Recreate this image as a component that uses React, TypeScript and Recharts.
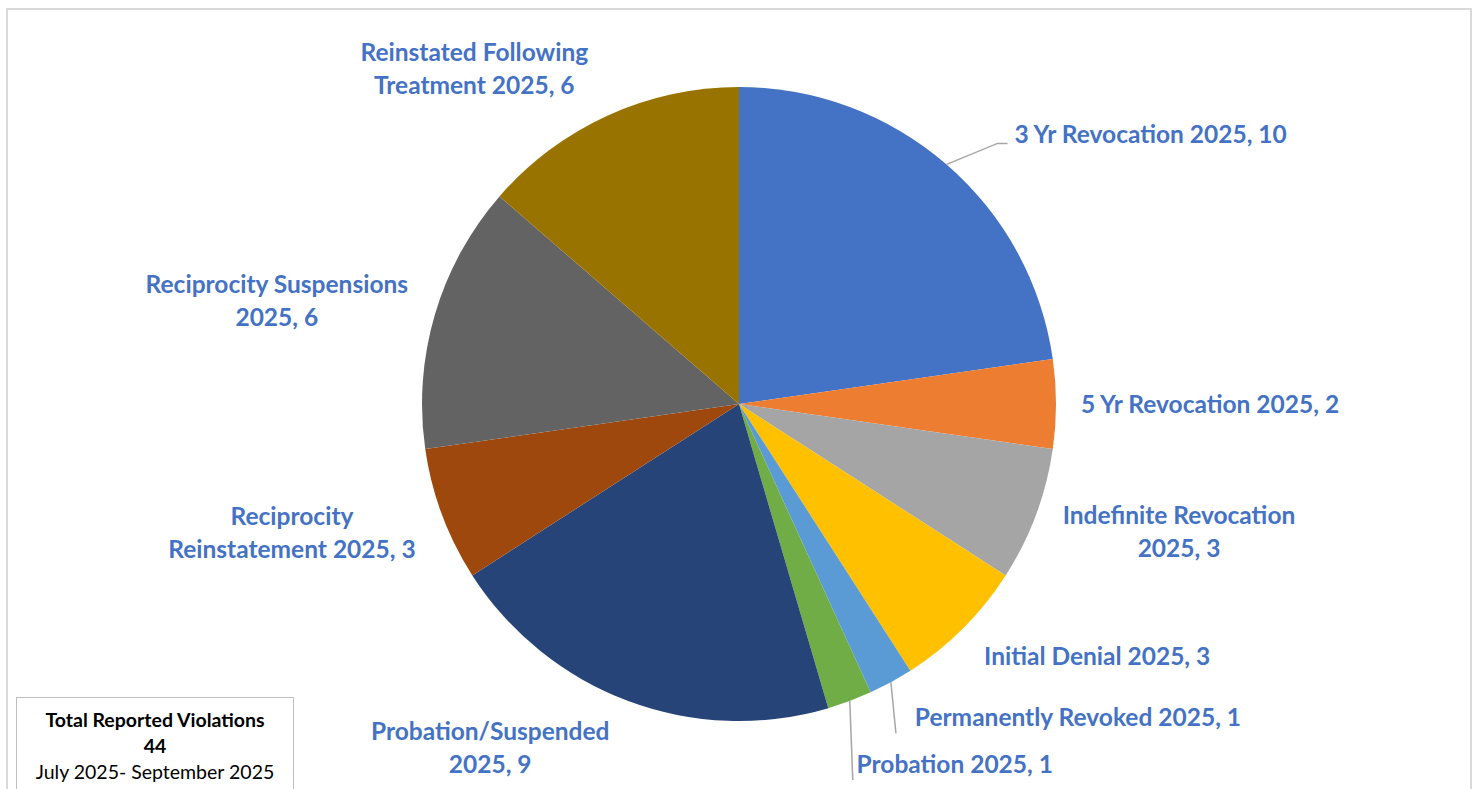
import React, { useEffect } from "react";
import { PieChart, Pie, Cell } from "recharts";

const categories = [
  "3 Yr Revocation 2025",
  "5 Yr Revocation 2025",
  "Indefinite Revocation 2025",
  "Initial Denial 2025",
  "Permanently Revoked 2025",
  "Probation 2025",
  "Probation/Suspended 2025",
  "Reciprocity Reinstatement 2025",
  "Reciprocity Suspensions 2025",
  "Reinstated Following Treatment 2025",
];
const counts = [10, 2, 3, 3, 1, 1, 9, 3, 6, 6];

const TOTAL_TITLE = "Total Reported Violations";
const TOTAL_VALUE = "44";
const PERIOD = "July 2025- September 2025";

const COLORS = [
  "#4472C4",
  "#ED7D31",
  "#A5A5A5",
  "#FFC000",
  "#5B9BD5",
  "#70AD47",
  "#264478",
  "#9E480E",
  "#636363",
  "#997300",
];

// label placement relative to the slice's outer edge point
// dx/dy: block centre offset, wrap: words on first line, leader: line end offset
const LABEL_LAYOUT = [
  { dx: 204, dy: -29, wrap: 0, leader: [[51, -21], [61, -21]] },
  { dx: 154, dy: 1, wrap: 0 },
  { dx: 143, dy: 18, wrap: 2 },
  { dx: 134, dy: 29, wrap: 0 },
  { dx: 187, dy: 36, wrap: 0, leader: [[5, 51]] },
  { dx: 105, dy: 64, wrap: 0, leader: [[3, 79]] },
  { dx: -138, dy: 47, wrap: 1 },
  { dx: -150, dy: 19, wrap: 1 },
  { dx: -158, dy: -13, wrap: 2 },
  { dx: -133, dy: -46, wrap: 2 },
];

const data = categories.map((name, i) => ({ name, value: counts[i] }));

const RADIAN = Math.PI / 180;
const FONT = "Lato, 'Open Sans', sans-serif";
const LINE_H = 33;

function renderLabel(props: any) {
  const { cx, cy, midAngle, outerRadius, index, name, value } = props;
  const layout = LABEL_LAYOUT[index];
  const ex = cx + outerRadius * Math.cos(-midAngle * RADIAN);
  const ey = cy + outerRadius * Math.sin(-midAngle * RADIAN);
  const text = `${name}, ${value}`;
  const words = text.split(" ");
  const lines =
    layout.wrap > 0
      ? [words.slice(0, layout.wrap).join(" "), words.slice(layout.wrap).join(" ")]
      : [text];
  const x = ex + layout.dx;
  const yc = ey + layout.dy;
  const top = yc - ((lines.length - 1) * LINE_H) / 2;
  return (
    <g key={`lbl-${index}`}>
      {layout.leader && (
        <polyline
          points={[[0, 0], ...layout.leader].map(([px, py]) => `${ex + px},${ey + py}`).join(" ")}
          fill="none"
          stroke="#A6A6A6"
          strokeWidth={1.5}
        />
      )}
      <text
        x={x}
        textAnchor="middle"
        fill="#4472C4"
        fontFamily={FONT}
        fontWeight={700}
        fontSize={24.5}
      >
        {lines.map((ln, i) => (
          <tspan key={i} x={x} y={top + i * LINE_H + 8}>
            {ln}
          </tspan>
        ))}
      </text>
    </g>
  );
}

export default function App() {
  useEffect(() => {
    document.body.style.margin = "0";
  }, []);

  return (
    <div
      style={{
        position: "relative",
        width: 1478,
        height: 789,
        overflow: "hidden",
        background: "#fff",
        fontFamily: FONT,
      }}
    >
      <style>{`.recharts-pie-sectors { filter: drop-shadow(0px 2px 4px rgba(0,0,0,0.25)); }`}</style>
      <div
        style={{
          position: "absolute",
          left: 6,
          top: 8,
          width: 1462,
          height: 800,
          border: "2px solid #D9D9D9",
        }}
      />
      <PieChart
        width={1478}
        height={789}
        margin={{ top: 0, right: 0, bottom: 0, left: 0 }}
        style={{ position: "absolute", left: 0, top: 0 }}
      >
        <Pie
          data={data}
          dataKey="value"
          nameKey="name"
          cx={739}
          cy={404}
          outerRadius={317}
          startAngle={90}
          endAngle={-270}
          stroke="none"
          label={renderLabel}
          labelLine={false}
          isAnimationActive={false}
        >
          {data.map((d, i) => (
            <Cell key={d.name} fill={COLORS[i]} />
          ))}
        </Pie>
      </PieChart>
      <div
        style={{
          position: "absolute",
          left: 16,
          top: 697,
          width: 276,
          height: 88,
          border: "1.5px solid #BFBFBF",
          background: "#fff",
          textAlign: "center",
          color: "#000",
          fontSize: 19.5,
          lineHeight: "26px",
          paddingTop: 9,
          boxSizing: "content-box",
        }}
      >
        <div style={{ fontWeight: 700 }}>{TOTAL_TITLE}</div>
        <div style={{ fontWeight: 700 }}>{TOTAL_VALUE}</div>
        <div>{PERIOD}</div>
      </div>
    </div>
  );
}
